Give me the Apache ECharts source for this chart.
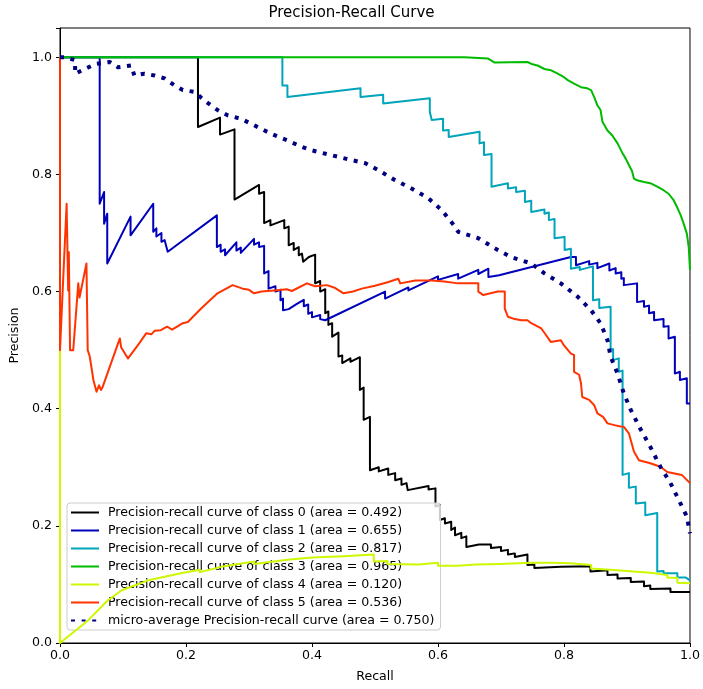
<!DOCTYPE html>
<html>
<head>
<meta charset="utf-8">
<script src="https://cdn.jsdelivr.net/npm/echarts@6/dist/echarts.min.js"></script>
<style>
  html, body { margin: 0; padding: 0; background: #fff; }
  #main { width: 703px; height: 689px; }
</style>
</head>
<body>
<div id="main"></div>
<script>
// [recall, precision] points
var class0 = [[0,1],[0.219,1],[0.219,0.881],[0.254,0.897],[0.254,0.868],[0.277,0.877],[0.277,0.757],[0.316,0.782],[0.316,0.767],[0.324,0.770],[0.324,0.717],[0.334,0.722],[0.334,0.713],[0.356,0.722],[0.356,0.708],[0.363,0.711],[0.363,0.679],[0.371,0.683],[0.371,0.671],[0.379,0.676],[0.379,0.662],[0.384,0.665],[0.386,0.651],[0.395,0.659],[0.405,0.663],[0.405,0.614],[0.413,0.618],[0.413,0.600],[0.421,0.604],[0.421,0.563],[0.426,0.566],[0.426,0.543],[0.432,0.546],[0.432,0.523],[0.442,0.530],[0.442,0.489],[0.448,0.491],[0.448,0.478],[0.461,0.486],[0.461,0.480],[0.476,0.488],[0.476,0.432],[0.482,0.436],[0.482,0.381],[0.492,0.386],[0.492,0.295],[0.506,0.300],[0.506,0.293],[0.521,0.298],[0.521,0.287],[0.532,0.290],[0.532,0.278],[0.542,0.281],[0.542,0.270],[0.550,0.273],[0.552,0.261],[0.585,0.268],[0.585,0.262],[0.596,0.264],[0.596,0.233],[0.603,0.236],[0.603,0.210],[0.611,0.213],[0.611,0.204],[0.621,0.207],[0.621,0.193],[0.627,0.197],[0.627,0.184],[0.637,0.188],[0.637,0.179],[0.645,0.182],[0.645,0.164],[0.665,0.168],[0.684,0.168],[0.684,0.162],[0.700,0.164],[0.700,0.157],[0.711,0.159],[0.711,0.151],[0.722,0.153],[0.722,0.147],[0.742,0.151],[0.742,0.133],[0.753,0.134],[0.753,0.128],[0.795,0.130],[0.842,0.131],[0.842,0.122],[0.869,0.124],[0.869,0.116],[0.885,0.117],[0.885,0.110],[0.906,0.111],[0.906,0.104],[0.927,0.105],[0.927,0.097],[0.937,0.098],[0.937,0.092],[0.969,0.093],[0.969,0.087],[1.0,0.087]];

var class1 = [[0,1],[0.063,1],[0.063,0.750],[0.070,0.770],[0.070,0.716],[0.075,0.733],[0.075,0.648],[0.112,0.728],[0.112,0.696],[0.148,0.750],[0.148,0.702],[0.153,0.708],[0.153,0.694],[0.161,0.700],[0.161,0.685],[0.166,0.688],[0.171,0.668],[0.249,0.730],[0.249,0.676],[0.255,0.680],[0.255,0.668],[0.262,0.672],[0.262,0.662],[0.280,0.684],[0.280,0.670],[0.287,0.675],[0.287,0.666],[0.308,0.690],[0.308,0.680],[0.316,0.684],[0.316,0.676],[0.324,0.678],[0.324,0.631],[0.331,0.635],[0.331,0.605],[0.342,0.609],[0.342,0.600],[0.350,0.603],[0.350,0.585],[0.354,0.588],[0.354,0.568],[0.363,0.570],[0.376,0.579],[0.387,0.586],[0.387,0.575],[0.394,0.578],[0.394,0.562],[0.400,0.565],[0.400,0.556],[0.413,0.560],[0.413,0.553],[0.421,0.551],[0.516,0.600],[0.516,0.588],[0.553,0.607],[0.553,0.602],[0.600,0.626],[0.600,0.620],[0.632,0.630],[0.632,0.622],[0.664,0.637],[0.664,0.630],[0.680,0.639],[0.680,0.625],[0.697,0.628],[0.811,0.659],[0.819,0.659],[0.819,0.645],[0.840,0.652],[0.840,0.646],[0.853,0.649],[0.853,0.640],[0.872,0.648],[0.872,0.636],[0.882,0.640],[0.882,0.631],[0.891,0.633],[0.891,0.622],[0.895,0.623],[0.895,0.611],[0.916,0.614],[0.916,0.582],[0.927,0.584],[0.927,0.574],[0.935,0.576],[0.935,0.563],[0.943,0.565],[0.943,0.551],[0.958,0.553],[0.958,0.540],[0.966,0.541],[0.966,0.520],[0.976,0.523],[0.976,0.460],[0.984,0.463],[0.984,0.449],[0.995,0.452],[0.995,0.409],[1.0,0.409]];

var class2 = [[0,1],[0.353,1],[0.353,0.952],[0.361,0.952],[0.361,0.932],[0.477,0.947],[0.477,0.932],[0.513,0.936],[0.513,0.921],[0.587,0.930],[0.587,0.907],[0.590,0.908],[0.590,0.893],[0.608,0.895],[0.608,0.875],[0.617,0.876],[0.617,0.864],[0.666,0.873],[0.666,0.853],[0.673,0.855],[0.673,0.833],[0.685,0.835],[0.685,0.779],[0.711,0.785],[0.711,0.776],[0.724,0.778],[0.724,0.770],[0.738,0.772],[0.738,0.753],[0.748,0.755],[0.748,0.736],[0.769,0.740],[0.769,0.733],[0.776,0.735],[0.776,0.722],[0.785,0.724],[0.785,0.691],[0.801,0.693],[0.801,0.671],[0.811,0.673],[0.811,0.639],[0.825,0.642],[0.825,0.637],[0.846,0.643],[0.846,0.585],[0.856,0.587],[0.856,0.572],[0.874,0.574],[0.874,0.500],[0.878,0.502],[0.878,0.483],[0.887,0.486],[0.887,0.463],[0.893,0.465],[0.893,0.287],[0.903,0.290],[0.903,0.265],[0.914,0.267],[0.914,0.238],[0.929,0.240],[0.929,0.218],[0.948,0.222],[0.948,0.122],[0.958,0.123],[0.958,0.119],[0.980,0.119],[0.980,0.112],[0.993,0.112],[1.0,0.107]];

var class3 = [[0,1],[0.642,1],[0.642,0.997],[0.679,0.998],[0.690,0.991],[0.742,0.992],[0.750,0.988],[0.758,0.986],[0.769,0.980],[0.779,0.978],[0.790,0.972],[0.800,0.966],[0.806,0.961],[0.816,0.955],[0.827,0.949],[0.837,0.947],[0.843,0.944],[0.848,0.932],[0.853,0.918],[0.858,0.910],[0.861,0.890],[0.869,0.875],[0.877,0.866],[0.885,0.853],[0.893,0.836],[0.898,0.827],[0.903,0.816],[0.908,0.806],[0.911,0.793],[0.916,0.790],[0.927,0.787],[0.937,0.785],[0.948,0.779],[0.958,0.773],[0.966,0.767],[0.974,0.756],[0.980,0.743],[0.985,0.731],[0.990,0.716],[0.995,0.699],[0.998,0.676],[1.0,0.637]];

var class4 = [[0,1],[0,0],[0.045,0.039],[0.076,0.073],[0.098,0.090],[0.140,0.107],[0.192,0.119],[0.222,0.125],[0.222,0.121],[0.256,0.130],[0.308,0.139],[0.308,0.135],[0.361,0.142],[0.400,0.146],[0.400,0.143],[0.450,0.148],[0.498,0.151],[0.498,0.139],[0.520,0.140],[0.520,0.135],[0.569,0.134],[0.600,0.137],[0.600,0.132],[0.632,0.132],[0.660,0.134],[0.700,0.135],[0.727,0.136],[0.750,0.137],[0.779,0.137],[0.810,0.136],[0.843,0.133],[0.843,0.127],[0.885,0.124],[0.910,0.122],[0.937,0.120],[0.964,0.116],[0.964,0.112],[0.980,0.111],[0.980,0.103],[1.0,0.102]];

var class5 = [[0,1],[0,0.500],[0.0105,0.750],[0.013,0.602],[0.014,0.667],[0.016,0.500],[0.021,0.500],[0.029,0.614],[0.031,0.590],[0.042,0.648],[0.044,0.500],[0.047,0.490],[0.050,0.470],[0.053,0.449],[0.058,0.429],[0.062,0.440],[0.065,0.432],[0.068,0.438],[0.095,0.520],[0.097,0.505],[0.105,0.491],[0.108,0.486],[0.126,0.512],[0.137,0.529],[0.145,0.527],[0.150,0.533],[0.160,0.534],[0.170,0.540],[0.178,0.535],[0.195,0.546],[0.203,0.548],[0.224,0.571],[0.250,0.597],[0.274,0.611],[0.282,0.608],[0.290,0.605],[0.300,0.603],[0.308,0.597],[0.320,0.600],[0.340,0.602],[0.360,0.604],[0.368,0.601],[0.392,0.614],[0.405,0.609],[0.424,0.611],[0.437,0.606],[0.450,0.597],[0.465,0.600],[0.479,0.605],[0.500,0.610],[0.520,0.616],[0.537,0.622],[0.540,0.614],[0.564,0.619],[0.590,0.619],[0.610,0.617],[0.632,0.614],[0.664,0.614],[0.664,0.600],[0.672,0.594],[0.695,0.600],[0.706,0.600],[0.706,0.571],[0.711,0.557],[0.722,0.553],[0.732,0.551],[0.742,0.551],[0.748,0.546],[0.764,0.537],[0.770,0.528],[0.779,0.514],[0.795,0.517],[0.800,0.508],[0.811,0.494],[0.816,0.492],[0.816,0.463],[0.824,0.458],[0.827,0.443],[0.829,0.420],[0.840,0.415],[0.848,0.406],[0.853,0.392],[0.862,0.386],[0.869,0.375],[0.880,0.372],[0.888,0.370],[0.895,0.369],[0.903,0.358],[0.911,0.327],[0.919,0.312],[0.937,0.307],[0.953,0.301],[0.964,0.292],[0.987,0.287],[1.0,0.273]];

var micro = [[0,1],[0.008,1],[0.024,0.995],[0.024,0.972],[0.039,0.980],[0.058,0.989],[0.079,0.992],[0.092,0.983],[0.113,0.986],[0.118,0.969],[0.134,0.972],[0.150,0.969],[0.166,0.964],[0.182,0.952],[0.195,0.944],[0.213,0.941],[0.232,0.924],[0.250,0.910],[0.266,0.901],[0.287,0.895],[0.308,0.884],[0.334,0.870],[0.361,0.858],[0.384,0.847],[0.400,0.841],[0.453,0.827],[0.485,0.819],[0.506,0.807],[0.532,0.790],[0.558,0.776],[0.585,0.759],[0.606,0.739],[0.627,0.711],[0.632,0.702],[0.664,0.691],[0.690,0.674],[0.716,0.659],[0.748,0.648],[0.769,0.631],[0.795,0.614],[0.822,0.591],[0.843,0.568],[0.858,0.546],[0.869,0.517],[0.874,0.489],[0.885,0.460],[0.895,0.426],[0.906,0.398],[0.922,0.364],[0.937,0.335],[0.953,0.301],[0.969,0.273],[0.985,0.238],[0.995,0.216],[1.0,0.187]];

var names = [
    'Precision-recall curve of class 0 (area = 0.492)',
    'Precision-recall curve of class 1 (area = 0.655)',
    'Precision-recall curve of class 2 (area = 0.817)',
    'Precision-recall curve of class 3 (area = 0.965)',
    'Precision-recall curve of class 4 (area = 0.120)',
    'Precision-recall curve of class 5 (area = 0.536)',
    'micro-average Precision-recall curve (area = 0.750)'
];
var colors = ['#000000', '#0000bb', '#00a4bb', '#00bb00', '#ccf900', '#ff3300', '#000080'];
var curves = [class0, class1, class2, class3, class4, class5, micro];

var font = 'DejaVu Sans';
var myChart = echarts.init(document.getElementById('main'), null, { renderer: 'canvas' });

var series = [];
for (var i = 0; i < curves.length; i++) {
    var isMicro = i === 6;
    series.push({
        name: names[i],
        type: 'line',
        data: curves[i],
        symbol: 'none',
        showSymbol: false,
        color: colors[i],
        lineStyle: {
            color: colors[i],
            width: isMicro ? 4 : 2,
            type: isMicro ? [4, 6.6] : 'solid',
            join: 'round'
        },
        z: 2 + i
    });
}

option = {
    animation: false,
    backgroundColor: '#fff',
    title: {
        text: 'Precision-Recall Curve',
        left: 'center',
        top: 0,
        padding: [6, 0, 5, 50],
        textStyle: { fontFamily: font, fontSize: 15, fontWeight: 'normal', color: '#000' }
    },
    legend: {
        orient: 'vertical',
        left: 67,
        top: 503,
        data: names,
        itemWidth: 28,
        itemHeight: 14,
        itemGap: 5,
        padding: [3, 6, 3, 3],
        backgroundColor: 'rgba(255,255,255,0.8)',
        borderColor: '#cccccc',
        borderWidth: 1,
        borderRadius: 3,
        itemStyle: { opacity: 0 },
        textStyle: { fontFamily: font, fontSize: 12.6, color: '#000', padding: [0, 0, 0, 4] }
    },
    grid: {
        left: 60,
        right: 10,
        top: 28,
        bottom: 46,
        show: true,
        borderColor: '#000',
        borderWidth: 1,
        backgroundColor: 'transparent'
    },
    xAxis: {
        type: 'value',
        min: 0,
        max: 1,
        interval: 0.2,
        name: 'Recall',
        nameLocation: 'middle',
        nameGap: 27,
        nameTextStyle: { fontFamily: font, fontSize: 12.6, color: '#000' },
        axisLine: { show: true, lineStyle: { color: '#000', width: 1 } },
        axisTick: { show: true, inside: false, length: 4, lineStyle: { color: '#000' } },
        axisLabel: {
            margin: 6,
            fontFamily: font, fontSize: 12.6, color: '#000',
            formatter: function (v) { return v.toFixed(1); }
        },
        splitLine: { show: false }
    },
    yAxis: {
        type: 'value',
        min: 0,
        max: 1.05,
        interval: 0.2,
        name: 'Precision',
        nameLocation: 'middle',
        nameGap: 31,
        nameRotate: 90,
        nameTextStyle: { fontFamily: font, fontSize: 12.6, color: '#000' },
        axisLine: { show: true, lineStyle: { color: '#000', width: 1 } },
        axisTick: { show: true, inside: false, length: 4, lineStyle: { color: '#000' } },
        axisLabel: {
            margin: 8,
            fontFamily: font, fontSize: 12.6, color: '#000',
            formatter: function (v) { return v > 1.01 ? '' : v.toFixed(1); }
        },
        splitLine: { show: false }
    },
    series: series
};

myChart.setOption(option);
</script>
</body>
</html>
